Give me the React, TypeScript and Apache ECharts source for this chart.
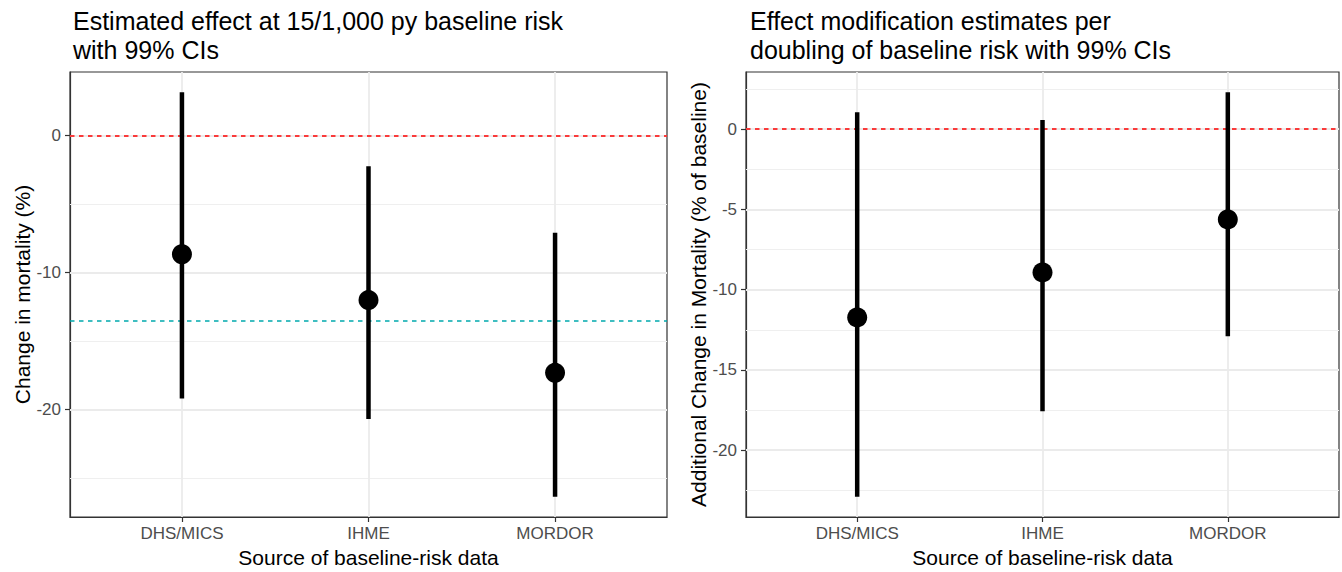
import React, { useEffect, useRef } from "react";
import * as echarts from "echarts";

const categories = ["DHS/MICS", "IHME", "MORDOR"];

const leftEstimate = [-8.67, -12.02, -17.33];
const leftLower = [-19.2, -20.7, -26.38];
const leftUpper = [3.16, -2.24, -7.11];

const rightEstimate = [-11.73, -8.93, -5.63];
const rightLower = [-22.9, -17.57, -12.9];
const rightUpper = [1.04, 0.56, 2.29];

const leftBreaks = [-20, -10, 0];
const leftMinorBreaks = [-25, -15, -5];
const rightBreaks = [-20, -15, -10, -5, 0];
const rightMinorBreaks = [-22.5, -17.5, -12.5, -7.5, -2.5, 2.5];

const nullEffect = 0;
const leftPooledEffect = -13.5;

const leftTitle = "Estimated effect at 15/1,000 py baseline risk\nwith 99% CIs";
const rightTitle = "Effect modification estimates per\ndoubling of baseline risk with 99% CIs";
const xTitle = "Source of baseline-risk data";
const leftYTitle = "Change in mortality (%)";
const rightYTitle = "Additional Change in Mortality (% of baseline)";

const FONT = "'Liberation Sans', Arial, Helvetica, sans-serif";

function expandRange(values: number[]): [number, number] {
  const mn = Math.min(...values);
  const mx = Math.max(...values);
  const r = mx - mn;
  return [mn - 0.05 * r, mx + 0.05 * r];
}

const catPositions = categories.map((_, i) => i + 1);

function buildAxes(
  gridIndex: number,
  range: [number, number],
  breaks: number[],
  yName: string
) {
  const xAxis = {
    type: "value",
    gridIndex,
    min: 0.4,
    max: 3.6,
    name: xTitle,
    nameLocation: "middle",
    nameGap: 28,
    nameTextStyle: { fontFamily: FONT, fontSize: 21, color: "#000" },
    axisLine: { show: true, onZero: false, lineStyle: { color: "#333", width: 1.2 } },
    axisTick: {
      show: true,
      customValues: catPositions,
      length: 5,
      lineStyle: { color: "#333", width: 1.2 },
    },
    axisLabel: {
      customValues: catPositions,
      formatter: (v: number) => categories[Math.round(v) - 1] ?? "",
      fontFamily: FONT,
      fontSize: 17,
      color: "#4D4D4D",
      margin: 8,
    },
    splitLine: { show: false },
  };
  const yAxis = {
    type: "value",
    gridIndex,
    min: range[0],
    max: range[1],
    name: yName,
    nameLocation: "middle",
    nameGap: 37,
    nameTextStyle: { fontFamily: FONT, fontSize: 21, color: "#000" },
    axisLine: { show: true, onZero: false, lineStyle: { color: "#333", width: 1.2 } },
    axisTick: {
      show: true,
      customValues: breaks,
      length: 5,
      lineStyle: { color: "#333", width: 1.2 },
    },
    axisLabel: {
      customValues: breaks,
      fontFamily: FONT,
      fontSize: 17,
      color: "#4D4D4D",
      margin: 9,
    },
    splitLine: { show: false },
  };
  return { xAxis, yAxis };
}

function buildSeries(
  idx: number,
  est: number[],
  lo: number[],
  hi: number[],
  breaks: number[],
  minor: number[],
  refLines: { value: number; color: string }[]
) {
  const major = { color: "#EBEBEB", width: 1.8, type: "solid" };
  const minorStyle = { color: "#EFEFEF", width: 1, type: "solid" };
  const gridData: any[] = [
    ...minor.map((v) => ({ yAxis: v, lineStyle: minorStyle })),
    ...breaks.map((v) => ({ yAxis: v, lineStyle: major })),
    ...catPositions.map((v) => ({ xAxis: v, lineStyle: major })),
  ];
  return [
    {
      type: "scatter",
      xAxisIndex: idx,
      yAxisIndex: idx,
      z: 1,
      silent: true,
      symbolSize: 0,
      data: [[2, est[1]]],
      markLine: {
        silent: true,
        z: 1,
        symbol: ["none", "none"],
        label: { show: false },
        animation: false,
        data: gridData,
      },
    },
    {
      type: "scatter",
      xAxisIndex: idx,
      yAxisIndex: idx,
      z: 2,
      silent: true,
      symbolSize: 0,
      data: [[2, est[1]]],
      markLine: {
        silent: true,
        z: 2,
        symbol: ["none", "none"],
        label: { show: false },
        animation: false,
        data: refLines.map((r) => ({
          yAxis: r.value,
          lineStyle: { color: r.color, width: 1.5, type: [4.5, 4.5] },
        })),
      },
    },
    {
      type: "custom",
      xAxisIndex: idx,
      yAxisIndex: idx,
      z: 3,
      encode: { x: 0, y: [1, 2] },
      data: catPositions.map((x, i) => [x, lo[i], hi[i]]),
      renderItem: (params: any, api: any) => {
        const x = api.value(0);
        const a = api.coord([x, api.value(1)]);
        const b = api.coord([x, api.value(2)]);
        return {
          type: "line",
          shape: { x1: a[0], y1: a[1], x2: b[0], y2: b[1] },
          style: { stroke: "#000", lineWidth: 4.5, lineCap: "butt" },
        };
      },
    },
    {
      type: "scatter",
      xAxisIndex: idx,
      yAxisIndex: idx,
      z: 4,
      symbol: "circle",
      symbolSize: 20,
      itemStyle: { color: "#000", opacity: 1 },
      data: catPositions.map((x, i) => [x, est[i]]),
    },
  ];
}

export default function App() {
  const ref = useRef<HTMLDivElement>(null);
  useEffect(() => {
    document.body.style.margin = "0";
    if (!ref.current) return;
    const chart = echarts.init(ref.current, null, { renderer: "svg" });

    const leftRange = expandRange([...leftLower, ...leftUpper, nullEffect, leftPooledEffect]);
    const rightRange = expandRange([...rightLower, ...rightUpper, nullEffect]);

    const L = buildAxes(0, leftRange, leftBreaks, leftYTitle);
    const R = buildAxes(1, rightRange, rightBreaks, rightYTitle);

    const titleStyle = { fontFamily: FONT, fontSize: 25, fontWeight: "normal", color: "#000", lineHeight: 29 };

    chart.setOption({
      animation: false,
      backgroundColor: "#fff",
      title: [
        { text: leftTitle, left: 68, top: 1, textStyle: titleStyle },
        { text: rightTitle, left: 745, top: 1, textStyle: titleStyle },
      ],
      grid: [
        { left: 70, top: 72, width: 597, height: 445, show: true, borderColor: "#333", borderWidth: 1.2, backgroundColor: "transparent", outerBoundsMode: "none" },
        { left: 746, top: 72, width: 593, height: 445, show: true, borderColor: "#333", borderWidth: 1.2, backgroundColor: "transparent", outerBoundsMode: "none" },
      ],
      xAxis: [L.xAxis, R.xAxis],
      yAxis: [L.yAxis, R.yAxis],
      series: [
        ...buildSeries(0, leftEstimate, leftLower, leftUpper, leftBreaks, leftMinorBreaks, [
          { value: nullEffect, color: "#FF0000" },
          { value: leftPooledEffect, color: "#00A9AD" },
        ]),
        ...buildSeries(1, rightEstimate, rightLower, rightUpper, rightBreaks, rightMinorBreaks, [
          { value: nullEffect, color: "#FF0000" },
        ]),
      ],
    });
    return () => chart.dispose();
  }, []);
  return <div ref={ref} style={{ width: 1342, height: 572 }} />;
}
